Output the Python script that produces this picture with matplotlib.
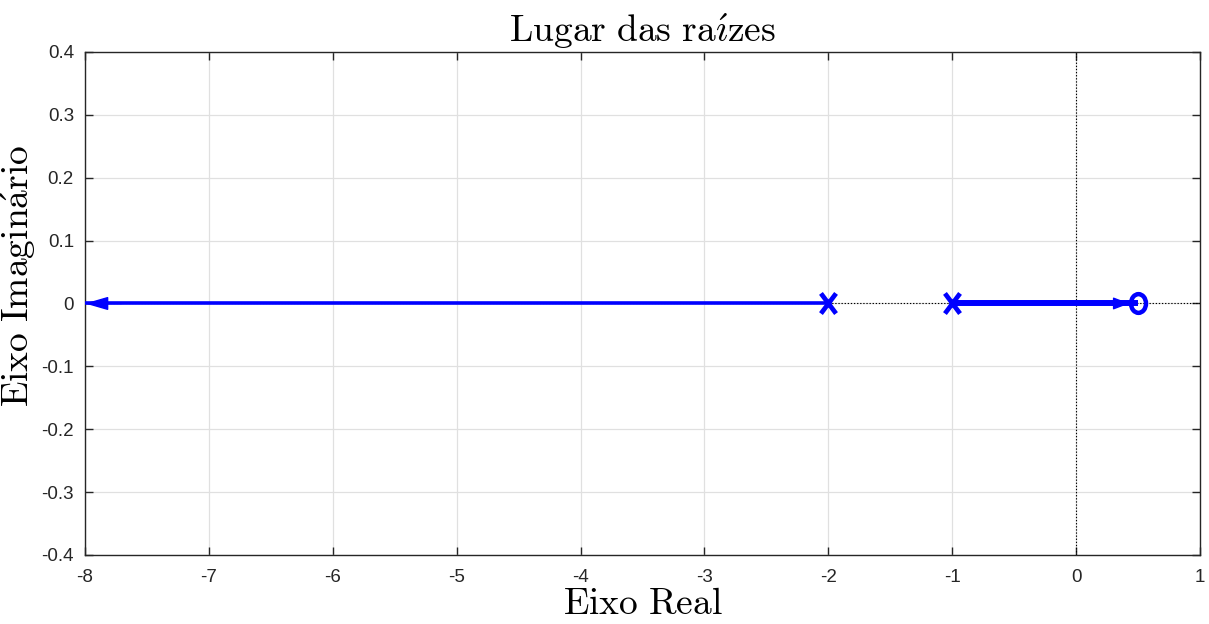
import matplotlib
matplotlib.use("Agg")
import matplotlib.pyplot as plt
from matplotlib.path import Path
from matplotlib.transforms import Affine2D

# Open-loop poles and zeros (real axis)
poles = [-2.0, -1.0]
zeros = [0.5]
# Root-locus branches on the real axis: (start, end)
branch_start = [-2.0, -1.0]
branch_end = [-8.0, 0.5]
branch_width = [2.6, 4.3]

xticks = [-8, -7, -6, -5, -4, -3, -2, -1, 0, 1]
xtick_labels = ['-8', '-7', '-6', '-5', '-4', '-3', '-2', '-1', '0', '1']
yticks = [-0.4, -0.3, -0.2, -0.1, 0, 0.1, 0.2, 0.3, 0.4]
ytick_labels = ['-0.4', '-0.3', '-0.2', '-0.1', '0', '0.1', '0.2', '0.3', '0.4']

plt.rcParams['mathtext.fontset'] = 'cm'
plt.rcParams['font.family'] = ['Liberation Sans', 'DejaVu Sans']

# slightly tall cross and ring markers
cross = Path([(-0.75, -1), (0.75, 1), (-0.75, 1), (0.75, -1)],
             [Path.MOVETO, Path.LINETO, Path.MOVETO, Path.LINETO])
ring = Path.unit_circle().transformed(Affine2D().scale(0.8, 1.0))

fig = plt.figure(figsize=(12.09, 6.24), dpi=100)
ax = fig.add_axes([0.0703, 0.1106, 0.9223, 0.8061])

ax.set_xlim(-8, 1)
ax.set_ylim(-0.4, 0.4)

# dotted reference axes
ax.axhline(0, color='black', lw=0.8, ls=(0, (1.2, 1.6)), zorder=1)
ax.axvline(0, color='black', lw=0.8, ls=(0, (1.2, 1.6)), zorder=1)

blue = '#0000ff'
head_specs = [(1.45, 0.42), (1.0, 0.38)]
for (s, e, w), (hl, hw) in zip(zip(branch_start, branch_end, branch_width), head_specs):
    ax.plot([s, e], [0, 0], color=blue, lw=w, solid_capstyle='butt', zorder=3)
    direction = 1 if e > s else -1
    tip = e - direction * 0.07 if e in zeros else e
    ax.annotate('', xy=(tip, 0), xytext=(tip - direction * 0.3, 0),
                arrowprops=dict(arrowstyle=f'-|>,head_length={hl},head_width={hw}',
                                mutation_scale=10, color=blue, lw=1.0,
                                shrinkA=0, shrinkB=0),
                zorder=4)

ax.plot(poles, [0] * len(poles), linestyle='none', marker=cross, color=blue,
        markersize=14.5, markeredgewidth=3.4, zorder=5)
ax.plot(zeros, [0] * len(zeros), linestyle='none', marker=ring, markerfacecolor='none',
        markeredgecolor=blue, markersize=13.5, markeredgewidth=3.2, zorder=5)

ax.set_xticks(xticks)
ax.set_xticklabels(xtick_labels)
ax.set_yticks(yticks)
ax.set_yticklabels(ytick_labels)
ax.tick_params(direction='in', top=True, right=True, length=6, width=1,
               labelsize=13.5, colors='#262626')
ax.tick_params(axis='x', pad=10)
ax.tick_params(axis='y', pad=8)
ax.grid(True, color='#e0e0e0', lw=0.9)
ax.set_axisbelow(True)
for sp in ax.spines.values():
    sp.set_color('#262626')
    sp.set_linewidth(1.0)

ax.set_title(r'$\mathrm{Lugar\ das\ ra\acute{\imath}zes}$', fontsize=27, pad=7)
ax.set_xlabel(r'$\mathrm{Eixo\ Real}$', fontsize=27, labelpad=0)
ax.set_ylabel(r'$\mathrm{Eixo\ Imagin\acute{a}rio}$', fontsize=27)
ax.yaxis.set_label_coords(-0.042, 0.555)

fig.savefig('out.png', dpi=100, facecolor='white')
